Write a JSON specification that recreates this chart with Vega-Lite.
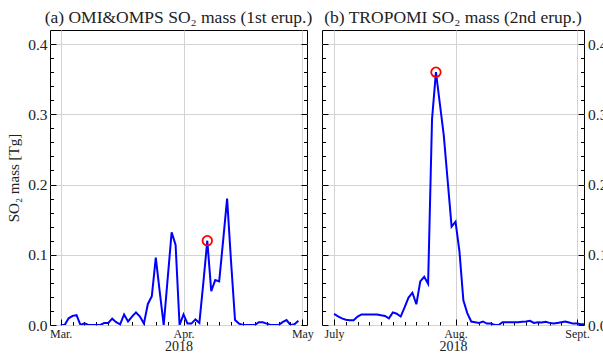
{
  "$schema": "https://vega.github.io/schema/vega-lite/v6.json",
  "padding": {"left": 6, "top": 8, "right": 0, "bottom": 0},
  "spacing": 7,
  "config": {
    "font": "Liberation Serif",
    "view": {"stroke": "black", "strokeWidth": 1},
    "axis": {
      "domain": false,
      "tickColor": "black",
      "tickWidth": 1,
      "gridColor": "#d3d3d3",
      "gridWidth": 1,
      "labelColor": "#222222",
      "titleColor": "#222222",
      "titleFontWeight": "normal",
      "labelFont": "Liberation Serif",
      "titleFont": "Liberation Serif",
      "labelOverlap": false,
      "labelFlush": false
    },
    "title": {"font": "Liberation Serif", "fontSize": 17.5, "fontWeight": "normal", "color": "#222222", "offset": 4, "frame": "group"}
  },
  "datasets": {
    "a": [
      {"date": "2018-03-01", "mass": 0}, {"date": "2018-03-02", "mass": 0}, {"date": "2018-03-03", "mass": 0.0095},
      {"date": "2018-03-04", "mass": 0.013}, {"date": "2018-03-05", "mass": 0.014}, {"date": "2018-03-06", "mass": 0},
      {"date": "2018-03-07", "mass": 0.0025}, {"date": "2018-03-08", "mass": 0}, {"date": "2018-03-09", "mass": 0},
      {"date": "2018-03-10", "mass": 0}, {"date": "2018-03-11", "mass": 0}, {"date": "2018-03-12", "mass": 0.003},
      {"date": "2018-03-13", "mass": 0.003}, {"date": "2018-03-14", "mass": 0.009}, {"date": "2018-03-15", "mass": 0.004},
      {"date": "2018-03-16", "mass": 0.001}, {"date": "2018-03-17", "mass": 0.015}, {"date": "2018-03-18", "mass": 0.005},
      {"date": "2018-03-19", "mass": 0.012}, {"date": "2018-03-20", "mass": 0.018}, {"date": "2018-03-21", "mass": 0.012},
      {"date": "2018-03-22", "mass": 0.002}, {"date": "2018-03-23", "mass": 0.03}, {"date": "2018-03-24", "mass": 0.041},
      {"date": "2018-03-25", "mass": 0.096}, {"date": "2018-03-26", "mass": 0.047}, {"date": "2018-03-27", "mass": 0},
      {"date": "2018-03-28", "mass": 0.066}, {"date": "2018-03-29", "mass": 0.132}, {"date": "2018-03-30", "mass": 0.114},
      {"date": "2018-03-31", "mass": 0}, {"date": "2018-04-01", "mass": 0.015}, {"date": "2018-04-02", "mass": 0.002},
      {"date": "2018-04-03", "mass": 0.002}, {"date": "2018-04-04", "mass": 0.008}, {"date": "2018-04-05", "mass": 0.003},
      {"date": "2018-04-06", "mass": 0.06}, {"date": "2018-04-07", "mass": 0.12}, {"date": "2018-04-08", "mass": 0.048},
      {"date": "2018-04-09", "mass": 0.064}, {"date": "2018-04-10", "mass": 0.062}, {"date": "2018-04-11", "mass": 0.12},
      {"date": "2018-04-12", "mass": 0.18}, {"date": "2018-04-13", "mass": 0.09}, {"date": "2018-04-14", "mass": 0.007},
      {"date": "2018-04-15", "mass": 0.002}, {"date": "2018-04-16", "mass": 0}, {"date": "2018-04-17", "mass": 0},
      {"date": "2018-04-18", "mass": 0}, {"date": "2018-04-19", "mass": 0}, {"date": "2018-04-20", "mass": 0.004},
      {"date": "2018-04-21", "mass": 0.004}, {"date": "2018-04-22", "mass": 0.002}, {"date": "2018-04-23", "mass": 0},
      {"date": "2018-04-24", "mass": 0}, {"date": "2018-04-25", "mass": 0}, {"date": "2018-04-26", "mass": 0.004},
      {"date": "2018-04-27", "mass": 0.007}, {"date": "2018-04-28", "mass": 0}, {"date": "2018-04-29", "mass": 0.001},
      {"date": "2018-04-30", "mass": 0.006}
    ],
    "b": [
      {"date": "2018-07-01", "mass": 0.0157}, {"date": "2018-07-02", "mass": 0.0124}, {"date": "2018-07-03", "mass": 0.0095},
      {"date": "2018-07-04", "mass": 0.0076}, {"date": "2018-07-05", "mass": 0.0067}, {"date": "2018-07-06", "mass": 0.0067},
      {"date": "2018-07-07", "mass": 0.012}, {"date": "2018-07-08", "mass": 0.015}, {"date": "2018-07-09", "mass": 0.015},
      {"date": "2018-07-10", "mass": 0.0148}, {"date": "2018-07-11", "mass": 0.0148}, {"date": "2018-07-12", "mass": 0.015},
      {"date": "2018-07-13", "mass": 0.0138}, {"date": "2018-07-14", "mass": 0.0128}, {"date": "2018-07-15", "mass": 0.0095},
      {"date": "2018-07-16", "mass": 0.018}, {"date": "2018-07-17", "mass": 0.016}, {"date": "2018-07-18", "mass": 0.012},
      {"date": "2018-07-19", "mass": 0.025}, {"date": "2018-07-20", "mass": 0.039}, {"date": "2018-07-21", "mass": 0.046},
      {"date": "2018-07-22", "mass": 0.0296}, {"date": "2018-07-23", "mass": 0.062}, {"date": "2018-07-24", "mass": 0.0686},
      {"date": "2018-07-25", "mass": 0.0586}, {"date": "2018-07-26", "mass": 0.293}, {"date": "2018-07-27", "mass": 0.36},
      {"date": "2018-07-28", "mass": 0.315}, {"date": "2018-07-29", "mass": 0.27}, {"date": "2018-07-30", "mass": 0.205},
      {"date": "2018-07-31", "mass": 0.14}, {"date": "2018-08-01", "mass": 0.147}, {"date": "2018-08-02", "mass": 0.105},
      {"date": "2018-08-03", "mass": 0.035}, {"date": "2018-08-04", "mass": 0.017}, {"date": "2018-08-05", "mass": 0.005},
      {"date": "2018-08-06", "mass": 0.004}, {"date": "2018-08-07", "mass": 0.003}, {"date": "2018-08-08", "mass": 0.005},
      {"date": "2018-08-09", "mass": 0.002}, {"date": "2018-08-10", "mass": 0.002}, {"date": "2018-08-11", "mass": 0},
      {"date": "2018-08-12", "mass": 0}, {"date": "2018-08-13", "mass": 0.004}, {"date": "2018-08-14", "mass": 0.004},
      {"date": "2018-08-15", "mass": 0.004}, {"date": "2018-08-16", "mass": 0.004}, {"date": "2018-08-17", "mass": 0.004},
      {"date": "2018-08-18", "mass": 0.0045}, {"date": "2018-08-19", "mass": 0.005}, {"date": "2018-08-20", "mass": 0.006},
      {"date": "2018-08-21", "mass": 0.003}, {"date": "2018-08-22", "mass": 0.004}, {"date": "2018-08-23", "mass": 0.0035},
      {"date": "2018-08-24", "mass": 0.0045}, {"date": "2018-08-25", "mass": 0.003}, {"date": "2018-08-26", "mass": 0.002},
      {"date": "2018-08-27", "mass": 0.003}, {"date": "2018-08-28", "mass": 0.004}, {"date": "2018-08-29", "mass": 0.005},
      {"date": "2018-08-30", "mass": 0.0035}, {"date": "2018-08-31", "mass": 0.002}, {"date": "2018-09-01", "mass": 0.002},
      {"date": "2018-09-02", "mass": 0.001}, {"date": "2018-09-03", "mass": 0.001}
    ],
    "pa": [{"date": "2018-04-07", "mass": 0.12}],
    "pb": [{"date": "2018-07-27", "mass": 0.36}]
  },
  "hconcat": [
    {
      "width": 257,
      "height": 295,
      "title": "(a) OMI&OMPS SO₂ mass (1st erup.)",
      "layer": [
        {
          "data": {"name": "a"},
          "mark": {"type": "line", "color": "#0000ff", "strokeWidth": 2, "clip": true},
          "encoding": {
            "x": {
              "field": "date", "type": "temporal",
              "scale": {"type": "utc", "domain": [1519629120000, 1525233600000]},
              "axis": {
                "orient": "bottom",
                "values": [1519862400000, 1520121600000, 1520380800000, 1520640000000, 1520899200000, 1521158400000, 1521417600000, 1521676800000, 1521936000000, 1522195200000,
                           1522540800000, 1522800000000, 1523059200000, 1523318400000, 1523577600000, 1523836800000, 1524096000000, 1524355200000, 1524614400000, 1524873600000,
                           1525132800000],
                "labelExpr": "utcdate(datum.value) == 1 ? ['Jan.','Feb.','Mar.','Apr.','May','June','July','Aug.','Sept.','Oct.','Nov.','Dec.'][utcmonth(datum.value)] : ''",
                "tickSize": {"condition": {"test": "utcdate(datum.value) == 1", "value": -6}, "value": -3.5},
                "grid": false,
                "labelFontSize": 12,
                "labelPadding": 9,
                "title": "2018",
                "titleFontSize": 14,
                "titlePadding": -2
              }
            },
            "y": {
              "field": "mass", "type": "quantitative",
              "scale": {"domain": [0, 0.42], "nice": false, "zero": true},
              "axis": {
                "orient": "left",
                "values": [0, 0.02, 0.04, 0.06, 0.08, 0.1, 0.12, 0.14, 0.16, 0.18, 0.2, 0.22, 0.24, 0.26, 0.28, 0.3, 0.32, 0.34, 0.36, 0.38, 0.4],
                "labelExpr": "abs(datum.value*10 - round(datum.value*10)) < 0.01 ? format(datum.value, '.1f') : ''",
                "tickSize": {"condition": {"test": "abs(datum.value*10 - round(datum.value*10)) < 0.01", "value": -6}, "value": -3.5},
                "grid": false,
                "labelFontSize": 15.5,
                "labelPadding": 9,
                "title": "SO₂ mass [Tg]",
                "titleFontSize": 15,
                "titlePadding": 6
              }
            }
          }
        },
        {
          "data": {"name": "pa"},
          "mark": {"type": "point", "shape": "circle", "filled": false, "color": "#ff0000", "size": 90, "strokeWidth": 1.8, "opacity": 1},
          "encoding": {
            "x": {
              "field": "date", "type": "temporal",
              "axis": {"orient": "top", "values": [1519862400000, 1522540800000, 1525132800000], "grid": true, "ticks": false, "labels": false, "title": null}
            },
            "y": {
              "field": "mass", "type": "quantitative",
              "axis": {
                "orient": "right",
                "values": [0, 0.02, 0.04, 0.06, 0.08, 0.1, 0.12, 0.14, 0.16, 0.18, 0.2, 0.22, 0.24, 0.26, 0.28, 0.3, 0.32, 0.34, 0.36, 0.38, 0.4],
                "labels": false,
                "grid": false,
                "title": null,
                "tickSize": {"condition": {"test": "abs(datum.value*10 - round(datum.value*10)) < 0.01", "value": -6}, "value": -3.5}
              }
            }
          }
        },
        {
          "data": {"name": "pa"},
          "mark": {"type": "point", "shape": "circle", "filled": false, "color": "#ff0000", "size": 90, "strokeWidth": 1.8, "opacity": 0},
          "encoding": {
            "x": {
              "field": "date", "type": "temporal",
              "axis": {"orient": "top", "values": [1519862400000, 1522540800000, 1525132800000], "grid": false, "ticks": false, "labels": false, "title": null}
            },
            "y": {
              "field": "mass", "type": "quantitative",
              "axis": {"orient": "left", "values": [0, 0.1, 0.2, 0.3, 0.4], "grid": true, "ticks": false, "labels": false, "title": null}
            }
          }
        }
      ],
      "resolve": {"axis": {"x": "independent", "y": "independent"}}
    },
    {
      "width": 262,
      "height": 295,
      "title": "(b) TROPOMI SO₂ mass (2nd erup.)",
      "layer": [
        {
          "data": {"name": "b"},
          "mark": {"type": "line", "color": "#0000ff", "strokeWidth": 2, "clip": true},
          "encoding": {
            "x": {
              "field": "date", "type": "temporal",
              "scale": {"type": "utc", "domain": [1530136800000, 1535914800000]},
              "axis": {
                "orient": "bottom",
                "values": [1530403200000, 1530662400000, 1530921600000, 1531180800000, 1531440000000, 1531699200000, 1531958400000, 1532217600000, 1532476800000, 1532736000000,
                           1533081600000, 1533340800000, 1533600000000, 1533859200000, 1534118400000, 1534377600000, 1534636800000, 1534896000000, 1535155200000, 1535414400000,
                           1535760000000],
                "labelExpr": "utcdate(datum.value) == 1 ? ['Jan.','Feb.','Mar.','Apr.','May','June','July','Aug.','Sept.','Oct.','Nov.','Dec.'][utcmonth(datum.value)] : ''",
                "tickSize": {"condition": {"test": "utcdate(datum.value) == 1", "value": -6}, "value": -3.5},
                "grid": false,
                "labelFontSize": 12,
                "labelPadding": 9,
                "title": "2018",
                "titleFontSize": 14,
                "titlePadding": -2
              }
            },
            "y": {
              "field": "mass", "type": "quantitative",
              "scale": {"domain": [0, 0.42], "nice": false, "zero": true},
              "axis": {
                "orient": "left",
                "values": [0, 0.02, 0.04, 0.06, 0.08, 0.1, 0.12, 0.14, 0.16, 0.18, 0.2, 0.22, 0.24, 0.26, 0.28, 0.3, 0.32, 0.34, 0.36, 0.38, 0.4],
                "labels": false,
                "grid": false,
                "title": null,
                "tickSize": {"condition": {"test": "abs(datum.value*10 - round(datum.value*10)) < 0.01", "value": -6}, "value": -3.5}
              }
            }
          }
        },
        {
          "data": {"name": "pb"},
          "mark": {"type": "point", "shape": "circle", "filled": false, "color": "#ff0000", "size": 90, "strokeWidth": 1.8, "opacity": 1},
          "encoding": {
            "x": {
              "field": "date", "type": "temporal",
              "axis": {"orient": "top", "values": [1530403200000, 1533081600000, 1535760000000], "grid": true, "ticks": false, "labels": false, "title": null}
            },
            "y": {
              "field": "mass", "type": "quantitative",
              "axis": {
                "orient": "right",
                "values": [0, 0.02, 0.04, 0.06, 0.08, 0.1, 0.12, 0.14, 0.16, 0.18, 0.2, 0.22, 0.24, 0.26, 0.28, 0.3, 0.32, 0.34, 0.36, 0.38, 0.4],
                "labelExpr": "abs(datum.value*10 - round(datum.value*10)) < 0.01 ? format(datum.value, '.1f') : ''",
                "tickSize": {"condition": {"test": "abs(datum.value*10 - round(datum.value*10)) < 0.01", "value": -6}, "value": -3.5},
                "grid": false,
                "labelFontSize": 15.5,
                "labelPadding": 9.5,
                "title": null
              }
            }
          }
        },
        {
          "data": {"name": "pb"},
          "mark": {"type": "point", "shape": "circle", "filled": false, "color": "#ff0000", "size": 90, "strokeWidth": 1.8, "opacity": 0},
          "encoding": {
            "x": {
              "field": "date", "type": "temporal",
              "axis": {"orient": "top", "values": [1530403200000, 1533081600000, 1535760000000], "grid": false, "ticks": false, "labels": false, "title": null}
            },
            "y": {
              "field": "mass", "type": "quantitative",
              "axis": {"orient": "left", "values": [0, 0.1, 0.2, 0.3, 0.4], "grid": true, "ticks": false, "labels": false, "title": null}
            }
          }
        }
      ],
      "resolve": {"axis": {"x": "independent", "y": "independent"}}
    }
  ]
}
